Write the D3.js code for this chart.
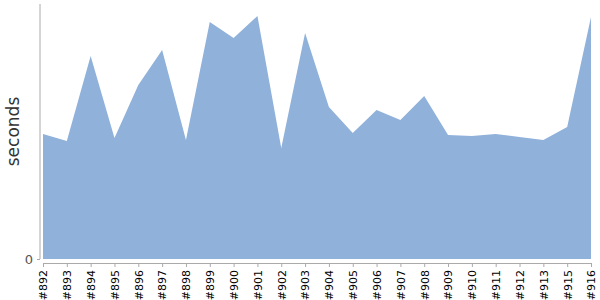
<!DOCTYPE html>
<html>
<head>
<meta charset="utf-8">
<script src="https://cdn.jsdelivr.net/npm/d3@7"></script>
<style>
  body { margin: 0; background: #fff; }
  text { font-family: "DejaVu Sans", sans-serif; }
</style>
</head>
<body>
<div id="chart"></div>
<script>
// build labels and durations (seconds)
var builds = ['#892', '#893', '#894', '#895', '#896', '#897', '#898', '#899', '#900', '#901',
  '#902', '#903', '#904', '#905', '#906', '#907', '#908', '#909', '#910', '#911',
  '#912', '#913', '#915', '#916'];
var durations = [125, 118, 203, 121, 174, 209, 119, 237, 221, 243,
  111, 226, 152, 126, 149, 139, 163, 124, 123, 125,
  122, 119, 132, 242];
var yTicks = [0];

(function() {
  var w = 600, h = 300;
  var left = 43, right = 591, top = 4, bottom = 259;

  var svg = d3.select('#chart').append('svg')
    .attr('width', w).attr('height', h);

  var x = d3.scalePoint().domain(builds).range([left, right]);
  var y = d3.scaleLinear().domain([0, 255]).range([bottom, top]);

  // Area
  var area = d3.area()
    .x(function(d, i) { return x(builds[i]); })
    .y0(y(0))
    .y1(function(d) { return y(d); });

  svg.append('path')
    .datum(durations)
    .attr('d', area)
    .attr('fill', '#8fb1da');

  // Y axis
  var yAxis = svg.append('g')
    .attr('transform', 'translate(40,0)')
    .call(d3.axisLeft(y).tickValues(yTicks).tickSize(3).tickPadding(4));
  yAxis.select('.domain').attr('d', 'M0,' + top + 'V' + bottom).attr('stroke', '#aaa');
  yAxis.selectAll('.tick line').attr('stroke', '#aaa');
  yAxis.selectAll('.tick text').attr('fill', '#555').style('font-size', '13px');

  // X axis
  var xAxis = svg.append('g')
    .attr('transform', 'translate(0,263)')
    .call(d3.axisBottom(x).tickSize(4).tickSizeOuter(0));
  xAxis.select('.domain').attr('stroke', '#aaa');
  xAxis.selectAll('.tick line').attr('stroke', '#aaa');
  xAxis.selectAll('.tick text')
    .attr('fill', '#000')
    .style('font-size', '11px')
    .attr('text-anchor', 'end')
    .attr('transform', 'rotate(-90)')
    .attr('x', -7)
    .attr('y', 0)
    .attr('dy', '0.35em');

  // Axis title
  svg.append('text')
    .attr('transform', 'translate(19,' + ((top + bottom) / 2) + ') rotate(-90)')
    .attr('text-anchor', 'middle')
    .attr('fill', '#333')
    .style('font-size', '17px')
    .text('seconds');
})();
</script>
</body>
</html>
